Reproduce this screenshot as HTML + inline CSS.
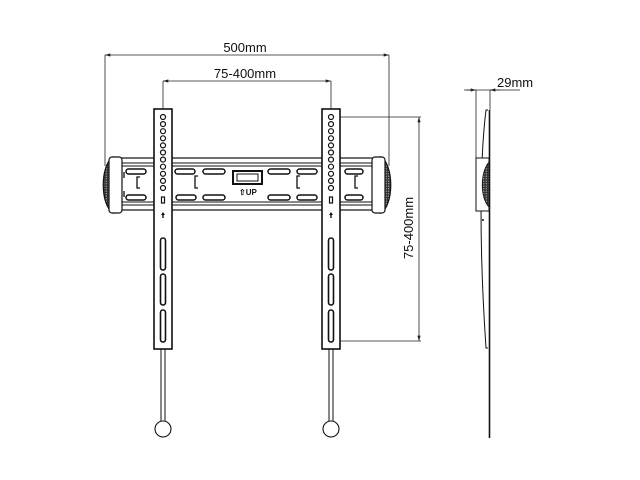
<!DOCTYPE html>
<html><head><meta charset="utf-8"><style>
html,body{margin:0;padding:0;background:#fff;}
svg{display:block;}
text{font-family:"Liberation Sans",Arial,sans-serif;fill:#111;}
</style></head><body>
<svg width="640" height="480" viewBox="0 0 640 480" xmlns="http://www.w3.org/2000/svg">
<defs>
<marker id="a" viewBox="0 0 10 6" refX="10" refY="3" markerWidth="7" markerHeight="4" orient="auto-start-reverse"><path d="M0,0 L10,3 L0,6z" fill="#222"/></marker>
<pattern id="h" width="2.5" height="2.5" patternUnits="userSpaceOnUse"><rect width="2.5" height="2.5" fill="#333"/><circle cx="1.25" cy="1.25" r="0.6" fill="#bbb"/></pattern>
</defs>
<g stroke="#222" fill="none" stroke-width="0.8">
<line x1="105" y1="55" x2="389" y2="55" marker-start="url(#a)" marker-end="url(#a)"/>
<line x1="105" y1="55" x2="105" y2="166"/>
<line x1="389" y1="55" x2="389" y2="166"/>
<line x1="163" y1="81" x2="331" y2="81" marker-start="url(#a)" marker-end="url(#a)"/>
<line x1="163" y1="81" x2="163" y2="117"/>
<line x1="331" y1="81" x2="331" y2="117"/>
<line x1="331" y1="117" x2="421" y2="117"/>
<line x1="331" y1="341" x2="421" y2="341"/>
<line x1="419" y1="117" x2="419" y2="341" marker-start="url(#a)" marker-end="url(#a)"/>
</g>
<text x="245" y="52" font-size="13" text-anchor="middle">500mm</text>
<text x="245" y="78" font-size="13" text-anchor="middle">75-400mm</text>
<text x="0" y="0" font-size="13" text-anchor="middle" transform="translate(413,228) rotate(-90)">75-400mm</text>

<g stroke="#111" stroke-width="1.2" fill="#fff">
<rect x="110" y="158" width="272" height="52"/>
</g>
<g stroke="#111" stroke-width="1" fill="none">
<line x1="110" y1="163" x2="382" y2="163"/>
<line x1="110" y1="166" x2="382" y2="166"/>
<line x1="110" y1="202" x2="382" y2="202"/>
<line x1="110" y1="205" x2="382" y2="205"/>
</g>
<g stroke="#111" stroke-width="1.5" fill="#fff">
<rect x="175" y="169" width="20" height="5" rx="2.5"/>
<rect x="176" y="195" width="20" height="5" rx="2.5"/>
<rect x="203" y="169" width="22" height="5" rx="2.5"/>
<rect x="203" y="195" width="22" height="5" rx="2.5"/>
<rect x="268" y="169" width="22" height="5" rx="2.5"/>
<rect x="268" y="195" width="22" height="5" rx="2.5"/>
<rect x="297" y="169" width="20" height="5" rx="2.5"/>
<rect x="297" y="195" width="20" height="5" rx="2.5"/>
<rect x="345" y="169" width="18" height="5" rx="2.5"/>
<rect x="345" y="195" width="18" height="5" rx="2.5"/>
<rect x="126" y="169" width="20" height="5" rx="2.5"/>
<rect x="126" y="195" width="20" height="5" rx="2.5"/>
</g>
<g stroke="#111" stroke-width="1.3" fill="none">
<path d="M140,177 h-3 v11 h3 M198,176 h-3 v12 h3 M300,176 h-3 v12 h3 M358,176 h-3 v12 h3"/>
<path d="M124,172 v6 M124,191 v6 M383,172 v6 M383,191 v6"/>
</g>
<rect x="233" y="171" width="29" height="13" fill="#fff" stroke="#111" stroke-width="2"/>
<rect x="237" y="174" width="21" height="7" fill="#fff" stroke="#111" stroke-width="1"/>
<text x="239" y="195" font-size="8" font-weight="bold">⇧UP</text>
<g stroke="#111" stroke-width="1.2">
<path d="M113,157 C100,165 100,205 113,213 Z" fill="url(#h)"/>
<rect x="109" y="157" width="13" height="56" rx="3" fill="#fff"/>
<path d="M381,157 C394,165 394,205 381,213 Z" fill="url(#h)"/>
<rect x="372" y="157" width="13" height="56" rx="3" fill="#fff"/>
</g>
<g id="s">
<line x1="161" y1="349" x2="161" y2="421" stroke="#111" stroke-width="1"/>
<line x1="165" y1="349" x2="165" y2="421" stroke="#111" stroke-width="1"/>
<circle cx="163" cy="429" r="8" fill="#fff" stroke="#111" stroke-width="1.1"/>
<rect x="154" y="109" width="18" height="240" fill="#fff" stroke="#111" stroke-width="1.6"/>
<g fill="#fff" stroke="#111" stroke-width="1.2">
<circle cx="163" cy="117" r="2.5"/><circle cx="163" cy="124.1" r="2.5"/><circle cx="163" cy="131.2" r="2.5"/><circle cx="163" cy="138.3" r="2.5"/><circle cx="163" cy="145.4" r="2.5"/><circle cx="163" cy="152.5" r="2.5"/><circle cx="163" cy="159.6" r="2.5"/><circle cx="163" cy="166.7" r="2.5"/><circle cx="163" cy="173.8" r="2.5"/><circle cx="163" cy="180.9" r="2.5"/><circle cx="163" cy="188" r="2.5"/>
<rect x="161.5" y="197" width="3" height="6"/>
</g>
<g fill="#fff" stroke="#111" stroke-width="1.6">
<rect x="160.5" y="238" width="5" height="32" rx="2.5"/>
<rect x="160.5" y="274" width="5" height="31" rx="2.5"/>
<rect x="160.5" y="310" width="5" height="32" rx="2.5"/>
</g>
<path d="M163,212 l-2,3 h1.3 v3 h1.4 v-3 h1.3z" fill="#111"/>
</g>
<use href="#s" transform="translate(168,0)"/>

<g stroke="#222" fill="none" stroke-width="0.8">
<line x1="464" y1="90" x2="520" y2="90"/>
<line x1="466" y1="90" x2="476" y2="90" marker-end="url(#a)"/>
<line x1="500" y1="90" x2="490" y2="90" marker-end="url(#a)"/>
<line x1="476" y1="90" x2="476" y2="158"/>
<line x1="490" y1="90" x2="490" y2="110"/>
</g>
<text x="497" y="87" font-size="13">29mm</text>
<line x1="489.5" y1="110" x2="489.5" y2="438" stroke="#111" stroke-width="1.6"/>
<path d="M488,110 L486,110 C481,150 478,230 486,348 L488,348" fill="#fff" stroke="#111" stroke-width="1"/>
<rect x="476" y="158" width="13" height="53" fill="#fff" stroke="#111" stroke-width="1"/>
<path d="M489,162 C480,172 480,198 489,207 Z" fill="url(#h)" stroke="#111" stroke-width="0.8"/>
<circle cx="483" cy="220" r="1" fill="#111"/>
</svg>
</body></html>
